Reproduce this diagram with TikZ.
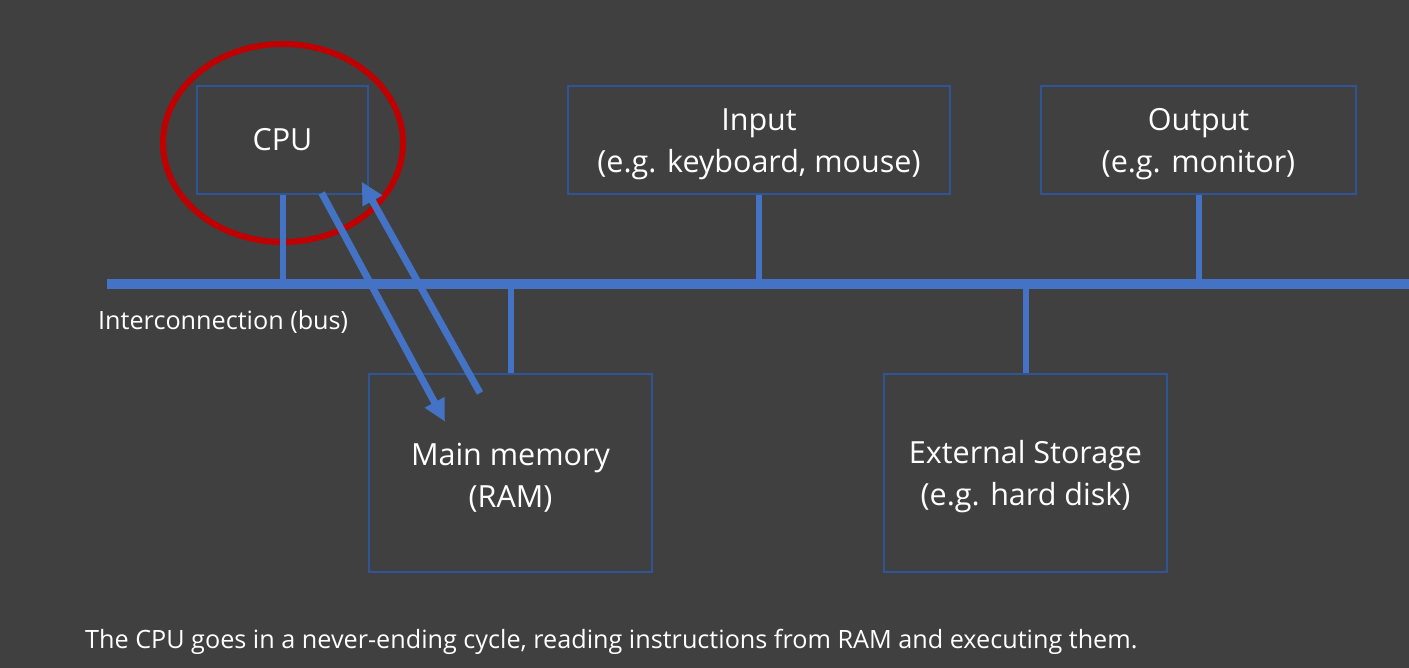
\documentclass[tikz,border=0pt]{standalone}
\usepackage{fontspec}
\setmainfont{Open Sans}
\usepackage{xcolor}
\usetikzlibrary{positioning,calc,arrows.meta,shapes.geometric}
\definecolor{slate}{HTML}{404040}
\definecolor{busblue}{HTML}{4472C4}
\definecolor{edgeblue}{HTML}{2F5597}
\definecolor{ringred}{HTML}{C00000}
\def\tallline{\rule{0pt}{31pt}}
\tikzset{unit/.style={draw=edgeblue,line width=1.8pt,text=white,align=center,inner sep=0pt,
    font=\fontsize{30.5}{42}\selectfont}  }
\tikzset{stub/.style={draw=busblue,line width=6pt}  }
\tikzset{flow/.style={draw=busblue,line width=7pt,-{Triangle[width=21pt,length=22pt]}}  }
\tikzset{>={Latex}}

\begin{document}
\begin{tikzpicture}[x=1pt,y=-1pt]
		\fill[slate] (0,0) rectangle (1409,668);
		\useasboundingbox (0,0) rectangle (1409,668);

		% the red ring goes under everything else
		\node[ellipse,draw=ringred,line width=6pt,minimum width=240,minimum height=198,inner sep=0pt] (ring) at (283,143) {};

		\node[unit,minimum width=171,minimum height=108] (cpu) at (282.5,140) {CPU};
		\node[unit,minimum width=382,minimum height=108] (input) at (759,140) {\tallline Input\\(e.g. keyboard, mouse)};
		\node[unit,minimum width=315,minimum height=108] (output) at (1198.5,140) {\tallline Output\\(e.g. monitor)};
		\node[unit,minimum width=283,minimum height=198] (ram) at (510.5,473) {\tallline Main memory\\(RAM)};
		\node[unit,minimum width=283,minimum height=198] (disk) at (1025.5,473) {\tallline External Storage\\(e.g. hard disk)};

		\coordinate (busL) at (107,284);
		\coordinate (busR) at (1409,284);
		\draw[draw=busblue,line width=9.5pt] (busL) -- (busR);

		\draw[stub] (cpu.south) -- (cpu.south |- busL);
		\draw[stub] (input.south) -- (input.south |- busL);
		\draw[stub] (output.south) -- (output.south |- busL);
		\draw[stub] (ram.north) -- (ram.north |- busL);
		\draw[stub] (disk.north) -- (disk.north |- busL);

		\coordinate (fetch0) at (321.7,193);
		\coordinate (fetch1) at (445,421.7);
		\coordinate (back0) at (480,393);
		\coordinate (back1) at (361.7,181.7);
		\draw[flow] (fetch0) -- (fetch1);
		\draw[flow] (back0) -- (back1);

		\node[text=white,anchor=west,inner sep=0pt,font=\fontsize{25.2}{29}\selectfont] (buslabel) at (98,322) {Interconnection (bus)};
		\node[text=white,anchor=west,inner sep=0pt,font=\fontsize{25.2}{32}\selectfont] (caption) at (85,642) {The CPU goes in a never-ending cycle, reading instructions from RAM and executing them.};
	\end{tikzpicture}
\end{document}
